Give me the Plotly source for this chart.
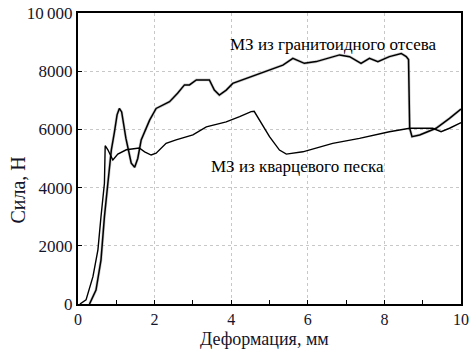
import plotly.graph_objects as go

# Data
granite_x = [0.30, 0.47, 0.60, 0.69, 0.78, 0.87, 0.95, 1.02, 1.08, 1.14, 1.25, 1.39, 1.48, 1.56,
             1.65, 1.87, 2.04, 2.39, 2.60, 2.78, 2.91, 3.09, 3.43, 3.56, 3.69, 3.87, 4.04, 4.39,
             4.74, 4.83, 5.35, 5.61, 5.91, 6.22, 6.83, 7.09, 7.39, 7.61, 7.83, 8.13, 8.44, 8.57,
             8.63, 8.66, 8.72, 8.92, 9.35, 9.70, 9.96, 10.0]
granite_y = [0, 480, 1510, 3000, 4150, 5290, 5900, 6500, 6720, 6600, 5700, 4840, 4700, 5000,
             5640, 6320, 6720, 6950, 7240, 7530, 7530, 7700, 7700, 7350, 7180, 7350, 7580, 7750,
             7930, 7980, 8210, 8440, 8270, 8330, 8560, 8500, 8270, 8440, 8330, 8500, 8610, 8500,
             8400, 6040, 5750, 5810, 6040, 6380, 6670, 6700]

quartz_x = [0.05, 0.21, 0.39, 0.52, 0.60, 0.69, 0.71, 0.78, 0.91, 1.04, 1.26, 1.60, 1.74, 1.91,
            2.04, 2.30, 2.56, 3.00, 3.35, 3.87, 4.22, 4.52, 4.60, 4.74, 5.00, 5.26, 5.44, 5.87,
            6.65, 7.35, 8.13, 8.66, 9.26, 9.48, 9.70, 9.96, 10.0]
quartz_y = [0, 140, 940, 1860, 3000, 4150, 5440, 5300, 4950, 5150, 5300, 5360, 5230, 5120,
            5180, 5520, 5640, 5810, 6090, 6260, 6440, 6610, 6620, 6320, 5750, 5290, 5150, 5230,
            5520, 5690, 5920, 6040, 6040, 5920, 6040, 6210, 6230]

x_ticks = [0, 2, 4, 6, 8, 10]
y_ticks = [0, 2000, 4000, 6000, 8000, 10000]
y_tick_labels = ["0", "2000", "4000", "6000", "8000", "10\u2009000"]

label_granite = "МЗ из гранитоидного отсева"
label_quartz = "МЗ из кварцевого песка"
x_title = "Деформация, мм"
y_title = "Сила, Н"

txt = "#14142a"
serif = "'Liberation Serif', 'Times New Roman', 'DejaVu Serif', serif"

fig = go.Figure()
fig.add_trace(go.Scatter(x=granite_x, y=granite_y, mode="lines",
                         line=dict(color="rgba(150,150,150,0.5)", width=2.8),
                         showlegend=False, hoverinfo="skip"))
fig.add_trace(go.Scatter(x=granite_x, y=granite_y, mode="lines",
                         line=dict(color="black", width=1.5), showlegend=False))
fig.add_trace(go.Scatter(x=quartz_x, y=quartz_y, mode="lines",
                         line=dict(color="black", width=1.4), showlegend=False))

fig.add_annotation(x=6.67, y=8930, text=label_granite, showarrow=False,
                   font=dict(family=serif, size=17, color="black"))
fig.add_annotation(x=5.73, y=4720, text=label_quartz, showarrow=False,
                   font=dict(family=serif, size=17, color="black"))
fig.add_annotation(x=-0.159, y=0.39, xref="paper", yref="paper", text=y_title,
                   textangle=-90, showarrow=False, xanchor="center", yanchor="middle",
                   font=dict(family=serif, size=20, color=txt))
fig.add_annotation(x=0.488, y=-0.12, xref="paper", yref="paper", text=x_title,
                   showarrow=False, yanchor="middle",
                   font=dict(family=serif, size=18, color=txt))

fig.update_xaxes(range=[0, 10], tickvals=x_ticks, ticks="inside", ticklen=4,
                 tickcolor="black", showline=True, linecolor="black", linewidth=2,
                 mirror=True, showgrid=True, gridcolor="#c8c8c8", griddash="dot",
                 gridwidth=1, zeroline=False, automargin=False,
                 minor=dict(dtick=1, ticks="inside", ticklen=4, tickcolor="black", showgrid=False),
                 tickfont=dict(family=serif, size=16, color=txt))
fig.update_yaxes(range=[0, 10000], tickvals=y_ticks, ticktext=y_tick_labels,
                 ticks="inside", ticklen=4, tickcolor="black", showline=True,
                 linecolor="black", linewidth=2, mirror=True, showgrid=True,
                 gridcolor="#c8c8c8", griddash="dot", gridwidth=1, zeroline=False,
                 automargin=False, ticklabeloverflow="allow",
                 tickfont=dict(family=serif, size=17, color=txt))

fig.update_layout(width=473, height=350, margin=dict(l=78, r=12, t=13, b=46),
                  plot_bgcolor="white", paper_bgcolor="white",
                  font=dict(family=serif))
fig.write_html("out.html", config={"displayModeBar": False},
               post_script="document.body.style.margin='0';")
